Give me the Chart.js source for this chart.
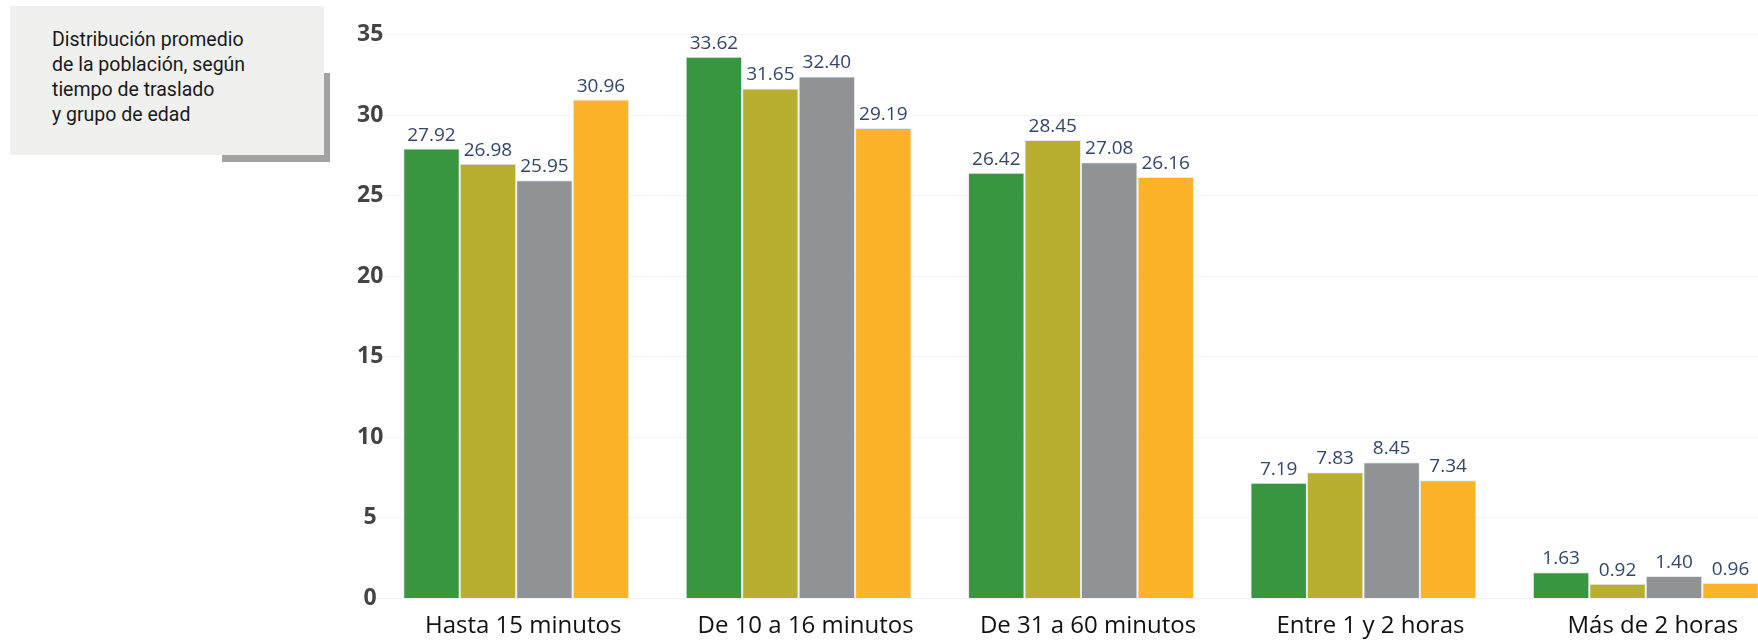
<!DOCTYPE html>
<html lang="es">
<head>
<meta charset="utf-8">
<script src="https://cdn.jsdelivr.net/npm/chart.js@4"></script>
<style>
  html, body { margin: 0; padding: 0; background: #fff; overflow: hidden; }
  .wrap { position: relative; width: 1800px; height: 641px; }
  .shadow { position: absolute; left: 222px; top: 73px; width: 108px; height: 89px; background: #a3a3a3; }
  .note {
    position: absolute; left: 10px; top: 6px; width: 314px; height: 149px;
    background: #f0f0ef; box-sizing: border-box; padding: 21px 0 0 42px;
    font-family: Roboto, sans-serif; font-size: 19.5px; line-height: 25px; color: #1a1a1a;
  }
  canvas { position: absolute; left: 0; top: 0; }
</style>
</head>
<body>
<div class="wrap">
  <canvas id="travelChart" width="1800" height="641"></canvas>
  <div class="shadow"></div>
  <div class="note">Distribución promedio<br>de la población, según<br>tiempo de traslado<br>y grupo de edad</div>
</div>
<script>
// Categories and values
const categories = ['Hasta 15 minutos', 'De 10 a 16 minutos', 'De 31 a 60 minutos', 'Entre 1 y 2 horas', 'Más de 2 horas'];
const grupo1 = [27.92, 33.62, 26.42, 7.19, 1.63];
const grupo2 = [26.98, 31.65, 28.45, 7.83, 0.92];
const grupo3 = [25.95, 32.40, 27.08, 8.45, 1.40];
const grupo4 = [30.96, 29.19, 26.16, 7.34, 0.96];
const yTicks = [0, 5, 10, 15, 20, 25, 30, 35];

// Value labels above every bar
const valueLabels = {
  id: 'valueLabels',
  afterDatasetsDraw(chart) {
    const ctx = chart.ctx;
    ctx.save();
    ctx.font = '19px "Open Sans"';
    ctx.fillStyle = '#34466a';
    ctx.textAlign = 'center';
    ctx.textBaseline = 'alphabetic';
    chart.data.datasets.forEach((ds, i) => {
      chart.getDatasetMeta(i).data.forEach((bar, j) => {
        ctx.fillText(ds.data[j].toFixed(2), bar.x, bar.y - 8);
      });
    });
    ctx.restore();
  }
};

const ctx = document.getElementById('travelChart').getContext('2d');
const travelChart = new Chart(ctx, {
  type: 'bar',
  data: {
    labels: categories,
    datasets: [
      { label: 'Grupo 1', data: grupo1, backgroundColor: '#389640' },
      { label: 'Grupo 2', data: grupo2, backgroundColor: '#b8af30' },
      { label: 'Grupo 3', data: grupo3, backgroundColor: '#8f9395' },
      { label: 'Grupo 4', data: grupo4, backgroundColor: '#fcb32a' }
    ]
  },
  options: {
    responsive: false,
    animation: false,
    datasets: {
      bar: {
        categoryPercentage: 0.8,
        barPercentage: 1,
        borderColor: '#e6eaee',
        borderWidth: 1
      }
    },
    layout: { padding: { left: 335, right: 13, top: 34.5, bottom: 0 } },
    plugins: {
      legend: { display: false },
      tooltip: { enabled: false }
    },
    scales: {
      x: {
        grid: { display: false },
        border: { display: false },
        afterFit: s => { s.height = 42.5; },
        ticks: {
          padding: 5,
          labelOffset: 7,
          color: '#111',
          font: { family: 'Open Sans', size: 24 }
        }
      },
      y: {
        min: 0,
        max: 35,
        afterFit: s => { s.width = 40; },
        afterBuildTicks: s => { s.ticks = yTicks.map(v => ({ value: v })); },
        grid: { color: '#f4f4f4', drawTicks: false },
        border: { display: false },
        ticks: {
          mirror: true,
          crossAlign: 'center',
          padding: -18,
          color: '#444',
          font: { family: 'Open Sans', size: 23, weight: 'bold' }
        }
      }
    }
  },
  plugins: [valueLabels]
});
</script>
</body>
</html>
